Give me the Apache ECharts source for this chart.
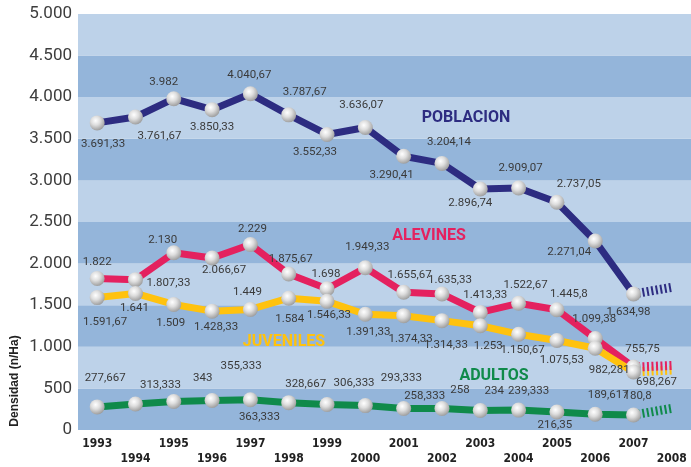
<!DOCTYPE html>
<html>
<head>
<meta charset="utf-8">
<script src="https://cdn.jsdelivr.net/npm/echarts@6/dist/echarts.min.js"></script>
<style>
  * { margin: 0; padding: 0; }
  body { background: #fff; }
</style>
</head>
<body>
<!-- contenedor del gráfico -->
<div id="main" style="width:691px;height:467px;"></div>
<script>
// años
const years = ["1993", "1994", "1995", "1996", "1997", "1998", "1999", "2000",
  "2001", "2002", "2003", "2004", "2005", "2006", "2007", "2008"];

// densidad (n/Ha) 1993-2007
const poblacion = [3691.33, 3761.67, 3982, 3850.33, 4040.67, 3787.67, 3552.33, 3636.07,
  3290.41, 3204.14, 2896.74, 2909.07, 2737.05, 2271.04, 1634.98];
const alevines = [1822, 1807.33, 2130, 2066.67, 2229, 1875.67, 1698, 1949.33,
  1655.67, 1635.33, 1413.33, 1522.67, 1445.8, 1099.38, 755.75];
const juveniles = [1591.67, 1641, 1509, 1428.33, 1449, 1584, 1546.33, 1391.33,
  1374.33, 1314.33, 1253, 1150.67, 1075.53, 982.281, 698.267];
const adultos = [277.667, 313.333, 343, 355.333, 363.333, 328.667, 306.333, 293.333,
  258.333, 258, 234, 239.333, 216.35, 189.617, 180.8];

// tramo estimado hacia 2008 (rayado)
const poblacion2008 = 1715;
const alevines2008 = 775;
const juveniles2008 = 720;
const adultos2008 = 260;

// eje y
const yTicks = [0, 500, 1000, 1500, 2000, 2500, 3000, 3500, 4000, 4500, 5000];

// desplazamiento de las etiquetas respecto al punto [dx, dy]
const offPoblacion = [[6,21],[24,19],[-10,-17],[0,17],[-1,-19],[16,-23],[-12,18],[-4,-22],
  [-12,19],[7,-21],[-10,14],[2,-20],[22,-18],[-26,11],[-5,18]];
const offAlevines = [[0,-16],[33,3],[-11,-13],[12,12],[2,-15],[2,-15],[-1,-15],[2,-21],
  [6,-17],[8,-14],[5,-17],[7,-18],[12,-16],[-1,-19],[9,-18]];
const offJuveniles = [[8,25],[-1,15],[-3,19],[4,16],[-3,-17],[1,21],[2,14],[3,18],
  [7,23],[4,24],[8,20],[4,16],[5,20],[14,22],[23,10]];
const offAdultos = [[8,-29],[25,-19],[29,-23],[29,-34],[9,17],[17,-19],[27,-21],[36,-27],
  [21,-12],[18,-18],[14,-19],[10,-19],[-2,13],[13,-19],[4,-19]];

// formato español: 3.691,33
function fmt(v) {
  let parts = String(v).split(".");
  let ent = parts[0].replace(/\B(?=(\d{3})+(?!\d))/g, ".");
  return parts[1] ? ent + "," + parts[1] : ent;
}

const bola = {
  type: "radial", x: 0.4, y: 0.35, r: 0.75,
  colorStops: [
    { offset: 0, color: "#ffffff" },
    { offset: 0.4, color: "#dedede" },
    { offset: 1, color: "#8e8e8e" }
  ]
};

function lineaSerie(name, values, offs, color) {
  return {
    name: name,
    type: "line",
    data: values.map(function (v, i) {
      return {
        value: v,
        label: { offset: offs[i] }
      };
    }),
    symbol: "circle",
    symbolSize: 15,
    lineStyle: { width: 7, color: color },
    itemStyle: { color: bola, borderWidth: 0 },
    label: {
      show: true,
      position: "inside",
      formatter: function (p) { return fmt(p.value); },
      color: "#3a3a3a",
      fontFamily: "Roboto, sans-serif",
      fontSize: 11.5
    },
    emphasis: { disabled: true },
    z: 3
  };
}

function rayado(values, next, color) {
  const d = years.map(function (y, i) {
    if (i === values.length - 1) return values[i];
    if (i === values.length) return next;
    return null;
  });
  return {
    type: "line",
    data: d,
    symbol: "none",
    lineStyle: { width: 9, color: color, type: [2, 2.5] },
    emphasis: { disabled: true },
    z: 2
  };
}

const colPob = "#2d2c81";
const colAle = "#e4215f";
const colJuv = "#ffc20e";
const colAdu = "#0f8a4a";

function nombre(text, x, y, color) {
  return {
    type: "text", x: x, y: y, z: 100,
    style: { text: text, fill: color, textAlign: "center", textVerticalAlign: "middle",
      font: "bold 16px Roboto, sans-serif" }
  };
}

const chart = echarts.init(document.getElementById("main"));
chart.setOption({
  animation: false,
  grid: { left: 78, right: 0, top: 14, bottom: 34 },
  xAxis: {
    type: "category",
    data: years,
    axisLine: { show: false },
    axisTick: { show: false },
    axisLabel: {
      interval: 0,
      margin: 6,
      color: "#222",
      fontWeight: "bold",
      fontFamily: "'Liberation Sans Narrow', 'DejaVu Sans Condensed', sans-serif",
      fontSize: 12,
      lineHeight: 15.5,
      formatter: function (v, i) { return i % 2 ? "\n" + v : v; }
    }
  },
  yAxis: {
    type: "value",
    min: yTicks[0],
    max: yTicks[yTicks.length - 1],
    interval: 500,
    axisLine: { show: false },
    axisTick: { show: false },
    splitLine: { show: false },
    splitArea: { show: true, areaStyle: { color: ["#94b5da", "#bdd2e9"] } },
    axisLabel: {
      margin: 6,
      padding: [8, 0, 0, 0],
      color: "#3d3d3d",
      fontFamily: "Roboto, sans-serif",
      fontSize: 17,
      formatter: function (v) { return fmt(v); }
    }
  },
  graphic: [
    {
      type: "text", x: 15, y: 381, rotation: Math.PI / 2, z: 100,
      style: {
        text: "Densidad (n/Ha)", fill: "#222", textAlign: "center", textVerticalAlign: "middle",
        font: "bold 12px 'Liberation Sans Narrow', sans-serif"
      }
    },
    nombre("POBLACION", 466, 118, colPob),
    nombre("ALEVINES", 429, 236, colAle),
    nombre("JUVENILES", 284, 342, colJuv),
    nombre("ADULTOS", 494, 376, colAdu)
  ],
  series: [
    rayado(adultos, adultos2008, colAdu),
    rayado(juveniles, juveniles2008, colJuv),
    rayado(alevines, alevines2008, colAle),
    rayado(poblacion, poblacion2008, colPob),
    lineaSerie("ADULTOS", adultos, offAdultos, colAdu),
    lineaSerie("ALEVINES", alevines, offAlevines, colAle),
    lineaSerie("JUVENILES", juveniles, offJuveniles, colJuv),
    lineaSerie("POBLACION", poblacion, offPoblacion, colPob)
  ]
});
</script>
</body>
</html>
